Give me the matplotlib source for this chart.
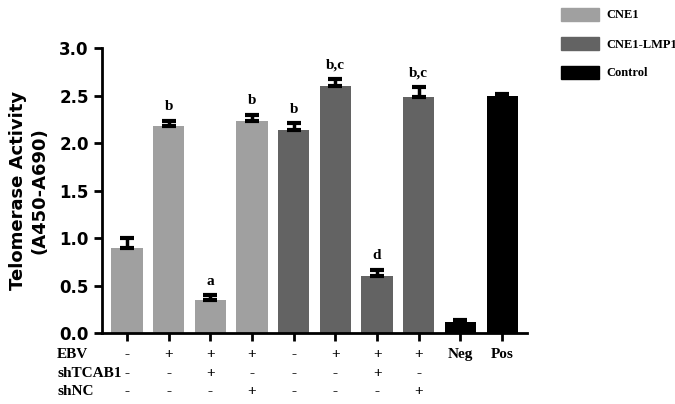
import matplotlib
matplotlib.use("Agg")
import matplotlib.pyplot as plt
from matplotlib.patches import Patch

values = [0.90, 2.18, 0.35, 2.24, 2.14, 2.60, 0.60, 2.49, 0.12, 2.50]
errors = [0.10, 0.06, 0.05, 0.06, 0.07, 0.08, 0.07, 0.10, 0.02, 0.02]
groups = ["CNE1"]*4 + ["CNE1-LMP1"]*4 + ["Control"]*2
letters = ["", "b", "a", "b", "b", "b,c", "d", "b,c", "", ""]
ebv = ["-", "+", "+", "+", "-", "+", "+", "+", "Neg", "Pos"]
shtcab1 = ["-", "-", "+", "-", "-", "-", "+", "-"]
shnc = ["-", "-", "-", "+", "-", "-", "-", "+"]
colors = {"CNE1": "#a0a0a0", "CNE1-LMP1": "#636363", "Control": "#000000"}

fig = plt.figure(figsize=(6.75, 4.04), dpi=100)
ax = fig.add_axes([0.151, 0.175, 0.63, 0.705])
x = list(range(len(values)))
ax.bar(x, values, width=0.75, color=[colors[g] for g in groups],
       yerr=[[0]*len(errors), errors],
       error_kw=dict(ecolor="black", elinewidth=2.5, capsize=5, capthick=3), zorder=2)
serif = "Liberation Serif"
for xi, v, e, l in zip(x, values, errors, letters):
    if l:
        ax.text(xi, v + e + 0.08, l, ha="center", va="bottom", fontsize=11, fontweight="bold", family=serif)
ax.set_xlim(-0.6, len(values) - 0.4)
ax.set_ylim(0, 3.0)
ax.set_yticks([0, 0.5, 1.0, 1.5, 2.0, 2.5, 3.0])
ax.set_yticklabels(["0.0", "0.5", "1.0", "1.5", "2.0", "2.5", "3.0"], fontsize=12, fontweight="bold")
ax.set_xticks(x)
ax.set_xticklabels([])
ax.tick_params(width=2, length=6)
for s in ["top", "right"]:
    ax.spines[s].set_visible(False)
for s in ["left", "bottom"]:
    ax.spines[s].set_linewidth(2)
ax.set_ylabel("Telomerase Activity\n(A450-A690)", fontsize=13, fontweight="bold", labelpad=8)

rows = [("EBV", ebv, -0.075), ("shTCAB1", shtcab1, -0.14), ("shNC", shnc, -0.205)]
tr = ax.get_xaxis_transform()
for name, vals, yy in rows:
    ax.text(-0.105, yy, name, transform=ax.transAxes, ha="left", va="center",
            fontsize=11, fontweight="bold", family=serif)
    for xi, s in zip(x, vals):
        ax.text(xi, yy, s, transform=tr, ha="center", va="center",
                fontsize=11, fontweight="bold", family=serif)

handles = [Patch(color=colors[k]) for k in ["CNE1", "CNE1-LMP1", "Control"]]
leg = fig.legend(handles, ["CNE1", "CNE1-LMP1", "Control"], loc="upper left",
                 bbox_to_anchor=(0.82, 1.0), frameon=False, handlelength=3.0, handleheight=1.3,
                 handletextpad=0.6, borderaxespad=0.2,
                 labelspacing=1.2, prop=dict(family=serif, weight="bold", size=9))
fig.savefig("out.png")
